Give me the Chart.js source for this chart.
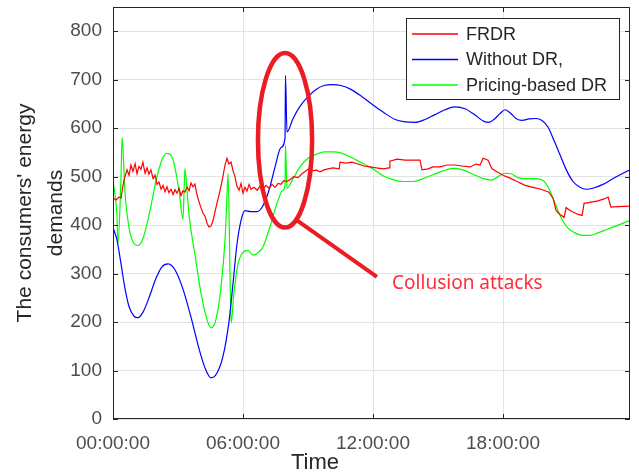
<!DOCTYPE html>
<html>
<head>
<meta charset="utf-8">
<script src="https://cdn.jsdelivr.net/npm/chart.js@4.4.0/dist/chart.umd.min.js"></script>
<style>
    html, body { margin: 0; padding: 0; background: #ffffff; }
    canvas { display: block; }
</style>
</head>
<body>
<canvas id="chart" width="639" height="476"></canvas>
<script>
// time in hours, demands
const frdrHours = [
    0.00, 0.14, 0.28, 0.37, 0.46, 0.55, 0.65, 0.74, 0.83, 0.92, 1.02, 1.11, 1.20, 1.29, 1.38, 1.48,
    1.57, 1.66, 1.75, 1.85, 1.94, 2.03, 2.12, 2.22, 2.31, 2.40, 2.49, 2.58, 2.68, 2.77, 2.86, 2.95,
    3.05, 3.14, 3.23, 3.32, 3.42, 3.51, 3.60, 3.69, 3.78, 3.88, 3.97, 4.06, 4.15, 4.25, 4.34, 4.43,
    4.52, 4.62, 4.71, 4.80, 4.89, 4.98, 5.08, 5.17, 5.26, 5.35, 5.45, 5.54, 5.63, 5.72, 5.82, 5.91,
    6.00, 6.09, 6.18, 6.28, 6.37, 6.51, 6.65, 6.78, 6.92, 7.06, 7.20, 7.34, 7.48, 7.62, 7.75, 7.89,
    8.03, 8.17, 8.35, 8.54, 8.72, 8.91, 9.09, 9.23, 9.37, 9.55, 9.74, 9.92, 10.15, 10.44, 10.48, 10.75,
    11.03, 11.31, 11.58, 11.86, 12.14, 12.46, 12.74, 12.78, 13.11, 13.48, 13.85, 14.17, 14.26, 14.54, 14.77, 15.09,
    15.42, 15.78, 16.11, 16.48, 16.75, 16.94, 17.08, 17.31, 17.49, 17.72, 18.00, 18.32, 18.65, 19.02, 19.38, 19.75,
    20.12, 20.31, 20.45, 20.63, 20.82, 20.91, 21.09, 21.28, 21.46, 21.65, 21.74, 22.01, 22.38, 22.66, 22.85, 22.98,
    23.31, 23.86
]
const frdrValues = [
    456, 452, 458, 456, 482, 500, 514, 503, 524, 511, 527, 506, 521, 515, 530, 507,
    518, 505, 514, 496, 503, 484, 489, 474, 482, 469, 479, 467, 474, 463, 473, 466,
    476, 461, 471, 468, 479, 471, 487, 479, 485, 462, 448, 436, 425, 418, 404, 396,
    398, 410, 428, 446, 462, 480, 502, 524, 538, 526, 530, 512, 500, 480, 472, 486,
    466, 478, 470, 484, 474, 478, 472, 480, 474, 482, 476, 484, 478, 486, 484, 492,
    490, 494, 500, 498, 506, 512, 518, 512, 514, 510, 514, 516, 518, 516, 530, 528,
    530, 526, 522, 520, 518, 516, 518, 532, 536, 534, 534, 534, 514, 516, 520, 520,
    524, 524, 522, 520, 526, 524, 538, 534, 516, 510, 503, 497, 490, 482, 478, 474,
    468, 455, 430, 422, 416, 436, 430, 426, 422, 420, 445, 447, 450, 454, 458, 437,
    438, 439
]

const withoutDrHours = [
    0.00, 0.18, 0.37, 0.55, 0.74, 0.97, 1.15, 1.38, 1.66, 1.98, 2.26, 2.54, 2.86, 3.23, 3.60, 3.97,
    4.25, 4.52, 4.80, 5.08, 5.35, 5.54, 5.72, 5.91, 6.09, 6.37, 6.65, 6.92, 7.20, 7.48, 7.75, 7.94,
    7.96, 8.03, 8.31, 8.63, 9.00, 9.37, 9.74, 10.11, 10.52, 10.98, 11.49, 12.00, 12.51, 13.02, 13.48, 13.94,
    14.40, 14.86, 15.32, 15.78, 16.25, 16.71, 17.12, 17.35, 17.58, 17.86, 18.09, 18.32, 18.60, 18.88, 19.20, 19.52,
    19.80, 20.08, 20.35, 20.63, 20.91, 21.23, 21.55, 21.83, 22.15, 22.61, 23.08, 23.54, 23.86
]
const withoutDrValues = [
    395, 370, 320, 270, 232, 212, 209, 220, 250, 290, 314, 320, 308, 268, 210, 145,
    105, 85, 95, 130, 200, 280, 360, 410, 430, 428, 428, 440, 472, 520, 560, 580,
    709, 592, 620, 645, 665, 680, 688, 690, 688, 680, 665, 648, 632, 618, 613, 612,
    618, 628, 638, 644, 640, 627, 614, 612, 618, 630, 638, 632, 620, 616, 619, 620,
    616, 602, 575, 545, 515, 490, 478, 474, 476, 484, 496, 507, 514
]

const pricingHours = [
    0.00, 0.18, 0.23, 0.37, 0.42, 0.55, 0.74, 0.97, 1.15, 1.38, 1.66, 1.98, 2.26, 2.49, 2.77, 3.05,
    3.23, 3.28, 3.32, 3.42, 3.51, 3.78, 4.06, 4.34, 4.52, 4.75, 4.98, 5.17, 5.26, 5.31, 5.40, 5.45,
    5.58, 5.77, 6.00, 6.23, 6.46, 6.74, 6.92, 7.24, 7.57, 7.84, 7.94, 7.96, 8.03, 8.31, 8.63, 9.00,
    9.37, 9.74, 10.15, 10.52, 10.98, 11.49, 12.00, 12.46, 12.92, 13.38, 13.85, 14.31, 14.77, 15.23, 15.69, 16.15,
    16.62, 17.08, 17.49, 17.77, 18.09, 18.37, 18.69, 19.02, 19.48, 19.85, 20.12, 20.40, 20.68, 20.95, 21.28, 21.65,
    22.01, 22.38, 22.84, 23.31, 23.86
]
const pricingValues = [
    493, 420, 362, 500, 581, 470, 395, 362, 358, 372, 420, 490, 535, 548, 535, 470,
    412, 470, 517, 470, 420, 340, 260, 205, 188, 205, 270, 370, 460, 507, 300, 198,
    260, 320, 344, 348, 338, 345, 355, 396, 445, 472, 482, 565, 476, 496, 520, 538,
    546, 551, 551, 549, 540, 528, 516, 502, 494, 490, 490, 496, 504, 512, 517, 514,
    505, 496, 493, 500, 507, 506, 498, 496, 496, 492, 475, 445, 415, 396, 385, 379,
    379, 384, 392, 400, 410
]

const seriesLabels = ["FRDR", "Without DR,", "Pricing-based DR"]
const seriesColors = ["#ff0000", "#0000ff", "#00ff00"]
const yTicksStep = 100
const xTicksStep = 6

// "Collusion attacks" mark, in data units (hours, demand)
const attackCenter = { x: 7.94, y: 575 }
const attackRadius = { x: 1.25, y: 180 }
const attackPointer = [{ x: 8.49, y: 410 }, { x: 12.18, y: 293 }]
const attackText = { x: 12.88, y: 280, text: "Collusion attacks" }

const toPoints = (hours, values) => hours.map((h, i) => ({ x: h, y: values[i] }))

const hoursToLabel = (value) => String(value).padStart(2, "0") + ":00:00"

const framePlugin = {
    id: "frame",
    afterDraw(chart) {
        const { ctx, chartArea: a, scales } = chart
        ctx.save()
        ctx.strokeStyle = "#262626"
        ctx.lineWidth = 1
        ctx.beginPath()
        for (const t of scales.y.ticks) {
            const py = Math.round(scales.y.getPixelForValue(t.value)) + 0.5
            ctx.moveTo(a.left, py)
            ctx.lineTo(a.left + 5, py)
            ctx.moveTo(a.right - 5, py)
            ctx.lineTo(a.right, py)
        }
        for (const t of scales.x.ticks) {
            const px = Math.round(scales.x.getPixelForValue(t.value)) + 0.5
            ctx.moveTo(px, a.bottom)
            ctx.lineTo(px, a.bottom - 5)
            ctx.moveTo(px, a.top)
            ctx.lineTo(px, a.top + 5)
        }
        ctx.stroke()
        ctx.strokeRect(a.left + 0.5, a.top + 0.5, a.right - a.left - 1, a.bottom - a.top - 1)

        ctx.fillStyle = "#262626"
        ctx.font = "22px 'Liberation Sans', Arial, sans-serif"
        ctx.textAlign = "center"
        ctx.textBaseline = "middle"
        ctx.fillText("Time", 315, 463)
        ctx.restore()
    },
}

const annotationPlugin = {
    id: "attack",
    afterDatasetsDraw(chart) {
        const { ctx, scales } = chart
        const x = scales.x
        const y = scales.y
        const cx = x.getPixelForValue(attackCenter.x)
        const cy = y.getPixelForValue(attackCenter.y)
        const rx = x.getPixelForValue(attackCenter.x + attackRadius.x) - cx
        const ry = cy - y.getPixelForValue(attackCenter.y + attackRadius.y)

        ctx.save()
        ctx.strokeStyle = "#ec1c24"
        ctx.lineWidth = 4.5
        ctx.beginPath()
        ctx.ellipse(cx, cy, rx, ry, 0, 0, Math.PI * 2)
        ctx.stroke()

        ctx.lineWidth = 4
        ctx.beginPath()
        ctx.moveTo(x.getPixelForValue(attackPointer[0].x), y.getPixelForValue(attackPointer[0].y))
        ctx.lineTo(x.getPixelForValue(attackPointer[1].x), y.getPixelForValue(attackPointer[1].y))
        ctx.stroke()

        ctx.fillStyle = "#ff2d3c"
        ctx.font = "19px 'Noto Sans', sans-serif"
        ctx.textAlign = "left"
        ctx.textBaseline = "middle"
        ctx.fillText(attackText.text, x.getPixelForValue(attackText.x), y.getPixelForValue(attackText.y))
        ctx.restore()
    },
}

const legendPlugin = {
    id: "boxLegend",
    afterDraw(chart) {
        const { ctx } = chart
        const left = 406
        const top = 18
        const width = 213
        const height = 81
        ctx.save()
        ctx.fillStyle = "#ffffff"
        ctx.fillRect(left, top, width, height)
        ctx.strokeStyle = "#262626"
        ctx.lineWidth = 1
        ctx.strokeRect(left + 0.5, top + 0.5, width, height)

        ctx.font = "18px 'Liberation Sans', Arial, sans-serif"
        ctx.textAlign = "left"
        ctx.textBaseline = "middle"
        chart.data.datasets.forEach((ds, i) => {
            const rowY = top + 16 + i * 25.5
            ctx.strokeStyle = ds.borderColor
            ctx.lineWidth = 1.3
            ctx.beginPath()
            ctx.moveTo(left + 6, rowY)
            ctx.lineTo(left + 52, rowY)
            ctx.stroke()
            ctx.fillStyle = "#262626"
            ctx.fillText(ds.label, left + 60, rowY + 1)
        })
        ctx.restore()
    },
}

const makeDataset = (index, points, smooth) => ({
    label: seriesLabels[index],
    data: points,
    borderColor: seriesColors[index],
    backgroundColor: seriesColors[index],
    borderWidth: 1.2,
    pointRadius: 0,
    tension: smooth ? 0.4 : 0,
    cubicInterpolationMode: smooth ? "monotone" : "default",
})

const config = {
    type: "line",
    data: {
        datasets: [
            makeDataset(0, toPoints(frdrHours, frdrValues), false),
            makeDataset(1, toPoints(withoutDrHours, withoutDrValues), true),
            makeDataset(2, toPoints(pricingHours, pricingValues), true),
        ],
    },
    options: {
        responsive: false,
        animation: false,
        layout: {
            padding: { top: 7, right: 9, left: 0, bottom: 0 },
        },
        plugins: {
            legend: { display: false },
            tooltip: { enabled: false },
        },
        scales: {
            x: {
                type: "linear",
                min: 0,
                max: 23.86,
                afterFit: (scale) => {
                    scale.height = 57
                    scale.paddingLeft = 0
                    scale.paddingRight = 0
                },
                afterBuildTicks: (scale) => {
                    scale.ticks = scale.ticks.filter((t) => t.value % xTicksStep === 0)
                },
                border: { display: false },
                grid: {
                    color: "#e3e3e3",
                    drawTicks: false,
                },
                ticks: {
                    stepSize: xTicksStep,
                    padding: 13,
                    color: "#4d4d4d",
                    font: { family: "'Liberation Sans', Arial, sans-serif", size: 19 },
                    callback: (value) => hoursToLabel(value),
                    maxRotation: 0,
                },
            },
            y: {
                min: 0,
                max: 850,
                afterFit: (scale) => {
                    scale.width = 113
                    scale.paddingTop = 0
                    scale.paddingBottom = 0
                },
                afterBuildTicks: (scale) => {
                    scale.ticks = scale.ticks.filter((t) => t.value % yTicksStep === 0)
                },
                border: { display: false },
                grid: {
                    color: "#e3e3e3",
                    drawTicks: false,
                },
                ticks: {
                    stepSize: yTicksStep,
                    padding: 11,
                    color: "#4d4d4d",
                    font: { family: "'Liberation Sans', Arial, sans-serif", size: 19 },
                },
                title: {
                    display: true,
                    text: ["The consumers' energy", "demands"],
                    color: "#262626",
                    font: { family: "'Liberation Sans', Arial, sans-serif", size: 21, lineHeight: 1.5 },
                    padding: { top: 9, bottom: 0 },
                },
            },
        },
    },
    plugins: [framePlugin, annotationPlugin, legendPlugin],
}

const chart = new Chart(document.getElementById("chart"), config)
</script>
</body>
</html>
